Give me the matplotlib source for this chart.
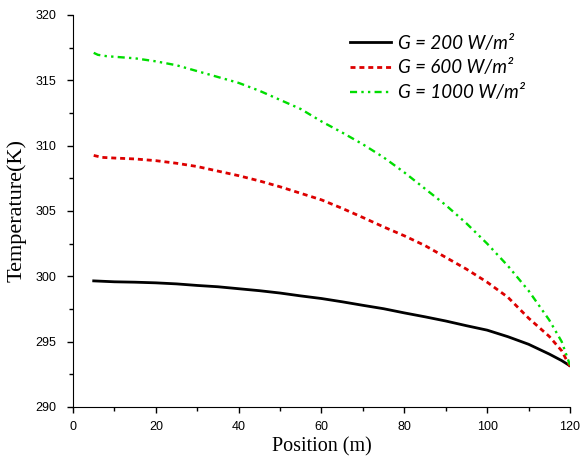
import matplotlib
matplotlib.use("Agg")
import matplotlib.pyplot as plt
from matplotlib.ticker import MultipleLocator

# Temperature along the position for three irradiance levels
x_200 = [5, 10, 15, 20, 25, 30, 35, 40, 45, 50, 55, 60, 65, 70, 75, 80,
         85, 90, 95, 100, 105, 110, 115, 118, 120]
t_200 = [299.65, 299.58, 299.55, 299.5, 299.42, 299.3, 299.2, 299.05, 298.9,
         298.72, 298.5, 298.3, 298.05, 297.78, 297.52, 297.2, 296.9, 296.58,
         296.22, 295.88, 295.38, 294.8, 294.05, 293.55, 293.15]

x_600 = [5, 7, 10, 15, 20, 25, 30, 35, 40, 45, 50, 55, 60, 65, 70, 75, 80,
         85, 90, 95, 100, 105, 110, 115, 118, 120]
t_600 = [309.25, 309.1, 309.05, 308.98, 308.85, 308.65, 308.4, 308.05, 307.7,
         307.3, 306.85, 306.35, 305.85, 305.2, 304.5, 303.78, 303.1, 302.35,
         301.45, 300.55, 299.55, 298.4, 296.8, 295.4, 294.3, 293.1]

x_1000 = [5, 6, 8, 10, 15, 20, 25, 30, 35, 40, 45, 50, 55, 60, 65, 70, 75,
          80, 85, 90, 95, 100, 105, 110, 115, 118, 120]
t_1000 = [317.1, 316.95, 316.85, 316.8, 316.68, 316.45, 316.15, 315.7, 315.25,
          314.8, 314.2, 313.5, 312.8, 311.85, 311.0, 310.1, 309.1, 307.95,
          306.7, 305.45, 304.05, 302.5, 300.8, 298.9, 296.65, 295.0, 293.2]

labels = ["G = 200 W/m²", "G = 600 W/m²", "G = 1000 W/m²"]

fig = plt.figure(figsize=(5.84, 4.67), dpi=100)
ax = fig.add_axes([0.125, 0.1285, 0.851, 0.8395])

ax.plot(x_200, t_200, color="black", lw=2.0, label=labels[0])
ax.plot(x_600, t_600, color="#dd0000", lw=2.0, dashes=(1.8, 1.4), label=labels[1])
ax.plot(x_1000, t_1000, color="#00dd00", lw=1.7,
        dashes=(3, 1.8, 1, 1.8, 1, 1.8), label=labels[2])

ax.set_xlim(0, 120)
ax.set_ylim(290, 320)
ax.xaxis.set_major_locator(MultipleLocator(20))
ax.xaxis.set_minor_locator(MultipleLocator(10))
ax.yaxis.set_major_locator(MultipleLocator(5))
ax.yaxis.set_minor_locator(MultipleLocator(2.5))
ax.tick_params(which="major", direction="out", length=4, width=1,
               labelsize=9)
ax.tick_params(which="minor", direction="out", length=3, width=1)
ax.tick_params(axis="x", pad=6)
ax.tick_params(axis="y", pad=8)
for lab in ax.get_xticklabels() + ax.get_yticklabels():
    lab.set_family("Liberation Sans")

for side in ["top", "right"]:
    ax.spines[side].set_visible(False)

ax.set_xlabel("Position (m)", family="Liberation Serif", fontsize=14.5,
              labelpad=3)
ax.set_ylabel("Temperature(K)", family="Liberation Serif", fontsize=16,
              labelpad=6)

leg = ax.legend(loc="upper left", bbox_to_anchor=(0.557, 0.95), frameon=False,
                borderaxespad=0, borderpad=0,
                handlelength=2.2, handletextpad=0.35, labelspacing=0.42,
                prop={"family": "Lato", "style": "italic", "size": 13.5})

fig.savefig("out.png", dpi=100)
